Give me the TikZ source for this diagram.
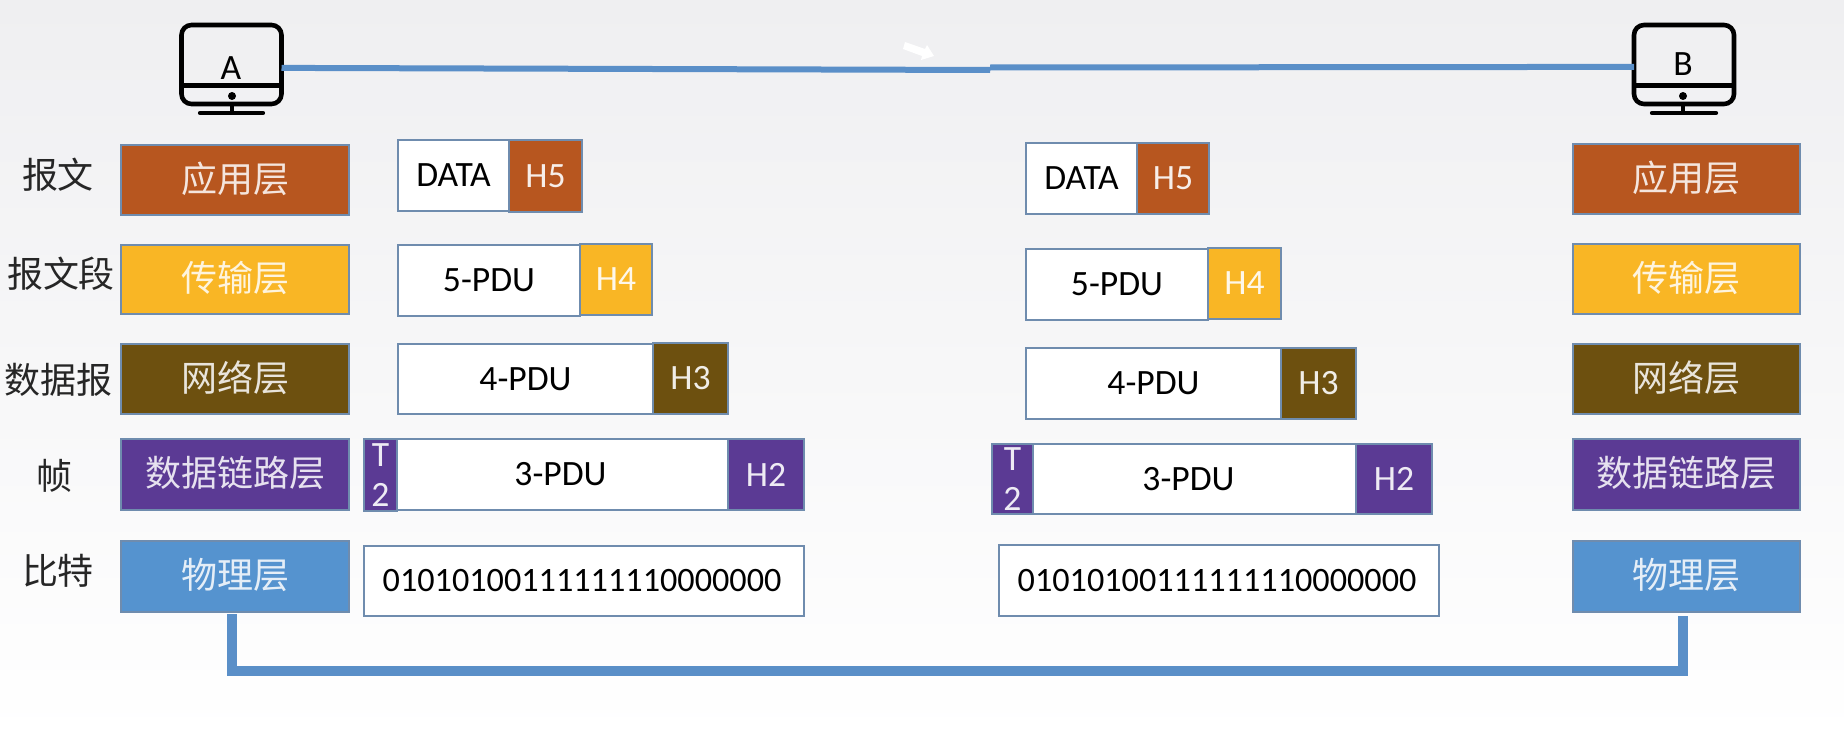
\documentclass[tikz,border=0pt]{standalone}
\usepackage{fontspec}
\setmainfont{Carlito}
\newfontfamily\cjk{Noto Sans CJK SC}
\usetikzlibrary{calc}
\definecolor{cBrown}{HTML}{B7561F}
\definecolor{cYellow}{HTML}{F9B625}
\definecolor{cOlive}{HTML}{6D500F}
\definecolor{cPurple}{HTML}{5B3A94}
\definecolor{cBlue}{HTML}{5593CF}
\definecolor{cEdge}{HTML}{6F8CAE}
\definecolor{cLine}{HTML}{5A8FC8}
\definecolor{cBgTop}{HTML}{EFEFF1}
\definecolor{cBgBot}{HTML}{FFFFFF}
\tikzset{
  pbox/.style={draw=cEdge,line width=0.7pt,inner sep=0pt,outer sep=0pt,font=\fontsize{17.8}{20}\selectfont,align=center},
  body/.style={pbox,fill=white,text=black},
  bits/.style={body,font=\fontsize{17.1}{20}\selectfont},
  head/.style={pbox,text=white,text opacity=0.9},
  layer/.style={pbox,text=white,text opacity=0.85,font=\fontsize{18}{20}\selectfont\cjk,text depth=3pt},
  side/.style={inner sep=0pt,font=\fontsize{18}{20}\selectfont\cjk,text=black!85},
  link/.style={draw=cLine,line width=3pt},
  linkb/.style={draw=cLine,line width=4.6pt,line join=miter},
  monitor/.style={draw=black,line width=2.3pt,rounded corners=5pt,inner sep=0pt,outer sep=0pt,minimum width=50pt,minimum height=39.5pt,font=\fontsize{17.8}{20}\selectfont},
  mline/.style={draw=black,line width=2.1pt},
}
\newcommand{\bx}[7]{\node[#6,minimum width={(#4-#2)*0.5pt},minimum height={(#5-#3)*0.5pt}] (#1) at ({(#2+#4)/2},{(#3+#5)/2}) {#7};}
\begin{document}
\begin{tikzpicture}[x=0.5pt,y=-0.5pt]
\useasboundingbox (0,0) rectangle (1844,739);
\shade[top color=cBgTop,bottom color=cBgBot] (0,0) rectangle (1844,739);
% monitors
\node[monitor] (A) at (231.5,64.5) {};
\node[inner sep=0pt,font=\fontsize{17.8}{20}\selectfont] (Alabel) at (231,68) {A};
\draw[mline] (A.west |- 0,85.5) -- (A.east |- 0,85.5);
\fill (232,96) circle (4);
\coordinate (Astand) at (232,113);
\coordinate (Abl) at (200,113);
\coordinate (Abr) at (263,113);
\draw[mline] (A.south -| Astand) -- (Astand);
\draw[mline,line cap=round] (Abl) -- (Abr);
\node[monitor] (B) at (1684,64.5) {};
\node[inner sep=0pt,font=\fontsize{17.8}{20}\selectfont] (Blabel) at (1683,64) {B};
\draw[mline] (B.west |- 0,85.5) -- (B.east |- 0,85.5);
\fill (1683,96) circle (4);
\coordinate (Bstand) at (1683,113);
\coordinate (Bbl) at (1652,113);
\coordinate (Bbr) at (1716,113);
\draw[mline] (B.south -| Bstand) -- (Bstand);
\draw[mline,line cap=round] (Bbl) -- (Bbr);
% top link
\coordinate (midL) at (990,70);
\coordinate (midR) at (990,67.5);
\draw[link] ([yshift=-1.7pt]A.east) -- (midL);
\draw[link] (midR) -- ([yshift=-1.2pt]B.west);
% side labels
\node[side] (s1) at (58,175) {报文};
\node[side] (s2) at (61,274) {报文段};
\node[side] (s3) at (58,380) {数据报};
\node[side] (s4) at (54,476) {帧};
\node[side] (s5) at (58,571) {比特};
% left stack
\bx{L5}{121}{145}{349}{215}{layer,fill=cBrown}{应用层}
\bx{L4}{121}{245}{349}{314}{layer,fill=cYellow}{传输层}
\bx{L3}{121}{344}{349}{414}{layer,fill=cOlive}{网络层}
\bx{L2}{121}{439}{349}{510}{layer,fill=cPurple}{数据链路层}
\bx{L1}{121}{541}{349}{612}{layer,fill=cBlue}{物理层}
% right stack
\bx{R5}{1573}{144}{1800}{214}{layer,fill=cBrown}{应用层}
\bx{R4}{1573}{244}{1800}{314}{layer,fill=cYellow}{传输层}
\bx{R3}{1573}{344}{1800}{414}{layer,fill=cOlive}{网络层}
\bx{R2}{1573}{439}{1800}{510}{layer,fill=cPurple}{数据链路层}
\bx{R1}{1573}{541}{1800}{612}{layer,fill=cBlue}{物理层}
% left packets
\bx{a5}{398}{140}{509}{211}{body}{DATA}
\bx{a5h}{509}{140}{582}{212}{head,fill=cBrown}{H5}
\bx{a4}{398}{245}{580}{316}{body}{5-PDU}
\bx{a4h}{580}{244}{652}{315}{head,fill=cYellow}{H4}
\bx{a3}{398}{344}{653}{414}{body}{4-PDU}
\bx{a3h}{653}{343}{728}{414}{head,fill=cOlive}{H3}
\bx{a2}{393}{439}{728}{510}{body}{3-PDU}
\bx{a2t}{364}{439}{397}{511}{head,fill=cPurple}{T\\2}
\bx{a2h}{728}{439}{804}{510}{head,fill=cPurple}{H2}
\bx{a1}{364}{546}{804}{616}{bits}{01010100111111110000000\hspace{2pt}}
% right packets
\bx{b5}{1026}{143}{1137}{214}{body}{DATA}
\bx{b5h}{1137}{143}{1209}{214}{head,fill=cBrown}{H5}
\bx{b4}{1026}{249}{1208}{320}{body}{5-PDU}
\bx{b4h}{1208}{248}{1281}{319}{head,fill=cYellow}{H4}
\bx{b3}{1026}{348}{1281}{419}{body}{4-PDU}
\bx{b3h}{1281}{348}{1356}{419}{head,fill=cOlive}{H3}
\bx{b2}{1021}{444}{1356}{514}{body}{3-PDU}
\bx{b2t}{992}{444}{1033}{514}{head,fill=cPurple}{T\\2}
\bx{b2h}{1356}{444}{1432}{514}{head,fill=cPurple}{H2}
\bx{b1}{999}{545}{1439}{616}{bits}{01010100111111110000000\hspace{2pt}}
% bottom link
\coordinate (cornerL) at (232,671);
\coordinate (cornerR) at (1683,671);
\coordinate (startL) at (232,614);
\coordinate (startR) at (1683,616);
\draw[linkb] (startL) -- (cornerL) -- (cornerR) -- (startR);
% cursor
\fill[white] (905,42) -- (925,49) -- (927,45) -- (934,56) -- (921,60) -- (922,56) -- (903,49) -- cycle;
\end{tikzpicture}
\end{document}
